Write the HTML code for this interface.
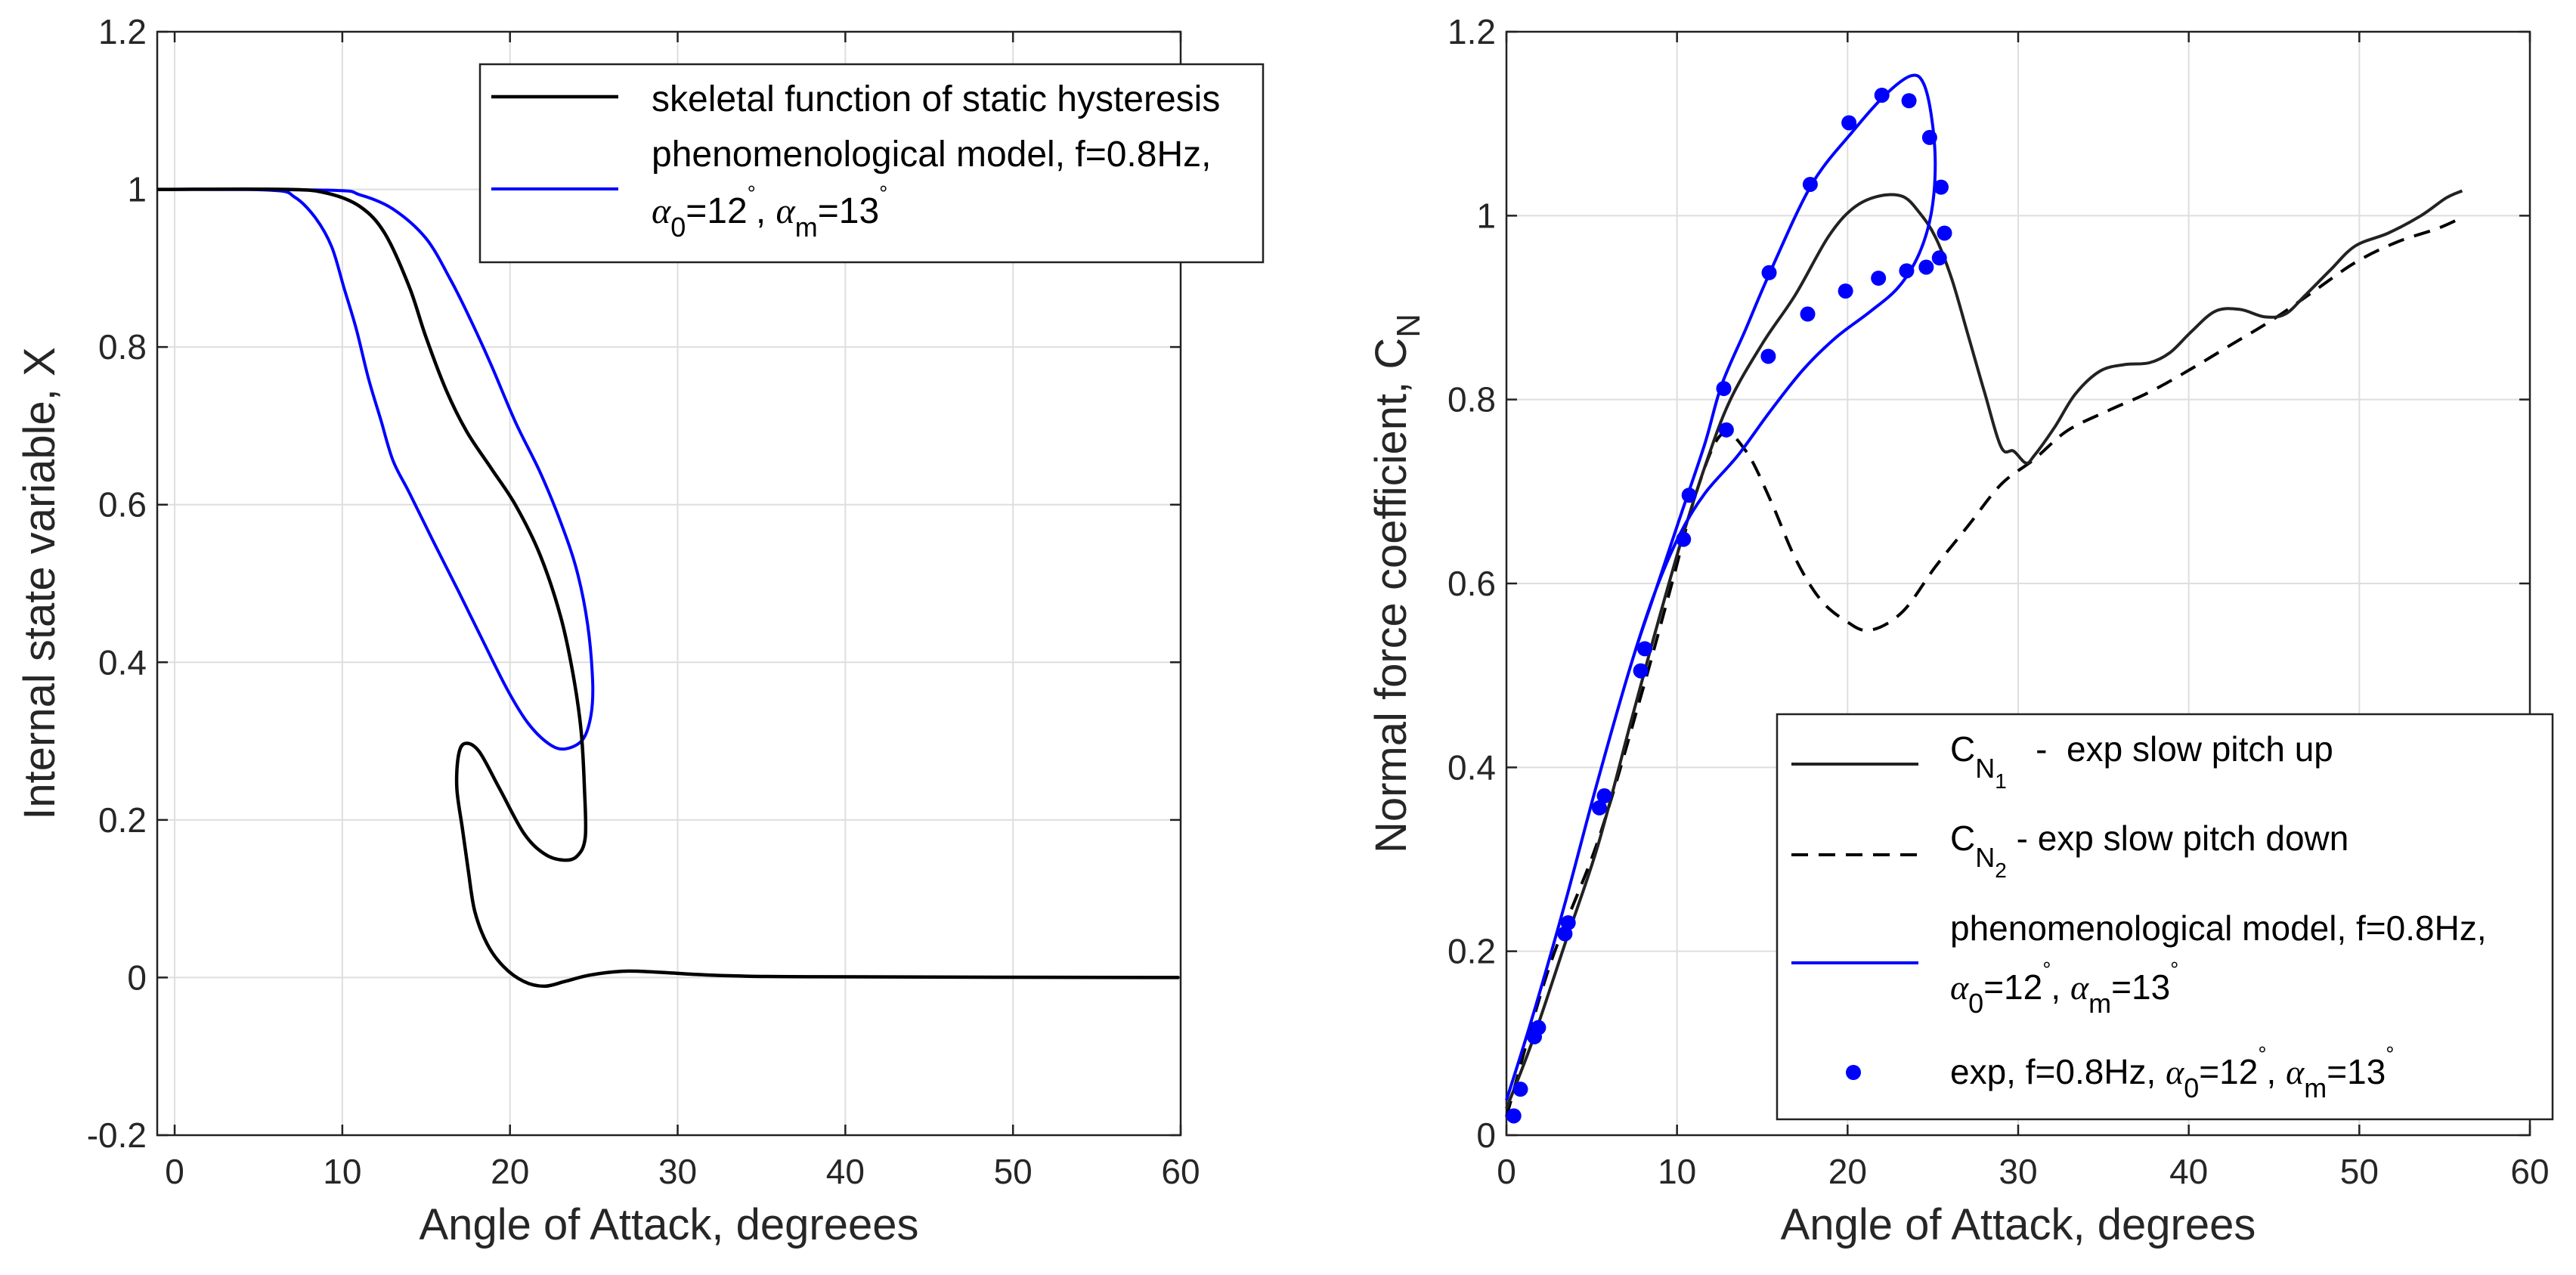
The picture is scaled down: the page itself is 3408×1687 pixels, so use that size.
<!DOCTYPE html>
<html><head><meta charset="utf-8"><style>
html,body{margin:0;padding:0;background:#fff}
svg{display:block;font-family:"Liberation Sans",Arial,sans-serif}
.al{font-family:"Liberation Serif",serif;font-style:italic}
</style></head><body>
<svg id="fig" width="3408" height="1687" viewBox="0 0 3408 1687" xmlns="http://www.w3.org/2000/svg">
<g id="left"></g>
<g id="right"></g>
</svg>
<script>
const leftXTicks=[0,10,20,30,40,50,60];
const leftYTicks=[-0.2,0,0.2,0.4,0.6,0.8,1,1.2];
const leftYTickLabels=['-0.2','0','0.2','0.4','0.6','0.8','1','1.2'];
const skeletalX=[-1.02,6.68,9.12,11.07,12.54,14.0,14.98,16.2,17.41,18.88,20.34,21.8,23.02,23.76,24.24,24.44,24.49,24.0,23.17,22.05,20.83,19.37,18.15,17.32,16.93,16.83,17.17,17.51,17.9,18.63,19.61,20.83,22.05,23.27,24.73,26.68,28.63,31.07,33.51,38.4,59.9];
const skeletalY=[1.0,1.0,0.995,0.978,0.944,0.876,0.813,0.745,0.693,0.646,0.599,0.536,0.458,0.385,0.313,0.240,0.178,0.154,0.149,0.157,0.183,0.240,0.287,0.297,0.282,0.240,0.188,0.136,0.084,0.043,0.014,-0.005,-0.011,-0.005,0.003,0.008,0.007,0.004,0.002,0.001,0];
const modelXX=[-1.02,9.12,11.07,13.02,14.98,16.44,17.66,18.88,20.34,21.8,23.02,23.99,24.63,24.93,24.83,24.34,23.27,22.29,21.07,19.85,18.39,16.93,15.46,14.0,13.02,12.29,11.56,10.83,10.1,9.37,8.39,7.17,5.71,-1.02];
const modelXY=[1.0,0.999,0.993,0.975,0.938,0.886,0.834,0.777,0.704,0.641,0.578,0.516,0.448,0.375,0.333,0.302,0.290,0.297,0.323,0.365,0.427,0.490,0.552,0.615,0.656,0.708,0.760,0.823,0.875,0.927,0.964,0.990,0.999,1.0];

const rightXTicks=[0,10,20,30,40,50,60];
const rightYTicks=[0,0.2,0.4,0.6,0.8,1,1.2];
const rightYTickLabels=['0','0.2','0.4','0.6','0.8','1','1.2'];
const cn1X=[0,1.5,3.43,5.36,7.29,8.74,10.18,11.63,13.08,15.01,16.94,18.87,20.32,21.77,23.21,24.18,25.14,26.11,27.08,28.04,29.01,29.73,30.45,30.94,32.14,33.35,34.8,36.24,37.69,38.9,40.11,41.55,43.0,44.45,45.66,46.86,48.31,49.76,51.69,53.62,55.07,56.03];
const cn1Y=[0.029,0.101,0.208,0.315,0.449,0.548,0.642,0.727,0.798,0.861,0.914,0.977,1.008,1.021,1.021,1.004,0.977,0.931,0.869,0.807,0.748,0.744,0.731,0.739,0.770,0.806,0.831,0.838,0.840,0.851,0.873,0.896,0.898,0.890,0.893,0.914,0.941,0.967,0.981,1.0,1.019,1.027];
const cn2X=[0,2.46,5.36,7.77,9.7,11.15,12.6,14.04,15.49,16.94,18.39,19.84,21.28,23.21,25.14,27.08,29.01,30.94,32.87,35.28,37.69,40.11,42.52,44.93,47.35,49.76,52.17,54.58,56.03];
const cn2Y=[0.020,0.18,0.32,0.47,0.60,0.70,0.762,0.744,0.690,0.627,0.583,0.560,0.549,0.569,0.618,0.663,0.708,0.735,0.766,0.788,0.808,0.833,0.860,0.887,0.918,0.949,0.971,0.986,0.998];
const modelNX=[0,1.5,3.43,5.36,7.29,8.74,10.18,11.63,12.6,14.04,15.49,17.9,20.32,22.25,23.7,24.42,24.9,25.14,24.9,24.18,22.97,21.28,19.35,17.42,15.49,13.56,11.63,10.18,8.74,7.29,5.36,3.43,1.5,0];
const modelNY=[0.038,0.127,0.252,0.386,0.511,0.592,0.672,0.752,0.815,0.877,0.940,1.034,1.092,1.132,1.152,1.145,1.110,1.056,1.002,0.958,0.922,0.895,0.868,0.833,0.788,0.739,0.698,0.654,0.592,0.511,0.386,0.252,0.127,0.038];
const expX=[0.43,0.82,1.64,1.88,3.43,3.62,5.45,5.74,7.87,8.11,10.38,10.71,12.74,12.89,15.4,15.35,17.81,17.66,20.08,19.88,22.01,21.81,23.6,23.46,24.81,24.61,25.48,25.38,25.68];
const expY=[0.021,0.05,0.107,0.117,0.219,0.231,0.356,0.369,0.505,0.529,0.648,0.696,0.812,0.767,0.938,0.847,1.034,0.893,1.101,0.918,1.131,0.932,1.125,0.940,1.085,0.944,1.031,0.954,0.981];

const NS='http://www.w3.org/2000/svg';
function mk(tag,attrs,parent){const e=document.createElementNS(NS,tag);for(const k in attrs)e.setAttribute(k,attrs[k]);parent.appendChild(e);return e;}

function axes(g,L,R,T,B,x0,x1,y0,y1,xt,yt,ytl){
  const sx=v=>L+(v-x0)/(x1-x0)*(R-L);
  const sy=v=>B-(v-y0)/(y1-y0)*(B-T);
  xt.forEach(v=>{
    const l=mk('line',{x1:sx(v),x2:sx(v),y1:T,y2:B,stroke:'#dedede','stroke-width':2},g);
    
    
  });
  yt.forEach(v=>{
    const l=mk('line',{x1:L,x2:R,y1:sy(v),y2:sy(v),stroke:'#dedede','stroke-width':2},g);
    
    
  });
  xt.forEach(v=>{
    const t=mk('path',{d:`M${sx(v)},${B}v-14M${sx(v)},${T}v14`,stroke:'#222','stroke-width':2.5},g);
    
    
    const tx=mk('text',{x:sx(v),y:B+64,'font-size':46,fill:'#262626','text-anchor':'middle'},g);
    tx.textContent=String(v);
    
    
  });
  yt.forEach((v,i)=>{
    const t=mk('path',{d:`M${L},${sy(v)}h14M${R},${sy(v)}h-14`,stroke:'#222','stroke-width':2.5},g);
    
    
    const tx=mk('text',{x:L-14,y:sy(v)+16,'font-size':46,fill:'#262626','text-anchor':'end'},g);
    tx.textContent=ytl[i];
    
    
  });
  const box=mk('rect',{x:L,y:T,width:R-L,height:B-T,fill:'none',stroke:'#222','stroke-width':2.5},g);
  
  
  return [sx,sy];
}
function line(g,sx,sy,X,Y,attrs,name){
  const P=X.map((x,i)=>[sx(x),sy(Y[i])]);
  let d='M'+P[0][0].toFixed(1)+','+P[0][1].toFixed(1);
  for(let i=0;i<P.length-1;i++){
    const p0=P[Math.max(0,i-1)],p1=P[i],p2=P[i+1],p3=P[Math.min(P.length-1,i+2)];
    const c1=[p1[0]+(p2[0]-p0[0])/6,p1[1]+(p2[1]-p0[1])/6];
    const c2=[p2[0]-(p3[0]-p1[0])/6,p2[1]-(p3[1]-p1[1])/6];
    d+='C'+c1.map(v=>v.toFixed(1)).join(',')+' '+c2.map(v=>v.toFixed(1)).join(',')+' '+p2.map(v=>v.toFixed(1)).join(',');
  }
  const p=mk('path',Object.assign({d:d,fill:'none','stroke-linejoin':'round'},attrs),g);
  
  
}

// LEFT
const gl=document.getElementById('left');
let [sx,sy]=axes(gl,208,1562,42,1502,-1.04,60,-0.2,1.2,leftXTicks,leftYTicks,leftYTickLabels);
line(gl,sx,sy,modelXX,modelXY,{stroke:'#0000ff','stroke-width':4},'phenomenological-model-line');
line(gl,sx,sy,skeletalX,skeletalY,{stroke:'#000','stroke-width':4.5},'skeletal-function-line');
gl.insertAdjacentHTML('beforeend',`
<text x="885" y="1640" font-size="58" fill="#262626" text-anchor="middle">Angle of Attack, degreees</text>
<text transform="translate(72,772) rotate(-90)" font-size="58" fill="#262626" text-anchor="middle">Internal state variable, X</text>
<g>
<rect x="635" y="85" width="1036" height="262" fill="#fff" stroke="#222" stroke-width="2.5"/>
<line x1="650" y1="128" x2="818" y2="128" stroke="#000" stroke-width="4.5"/>
<text x="862" y="147" font-size="48" fill="#000">skeletal function of static hysteresis</text>
<line x1="650" y1="250" x2="818" y2="250" stroke="#0000ff" stroke-width="4"/>
<text x="862" y="220" font-size="48" fill="#000">phenomenological model, f=0.8Hz,</text>
<text x="862" y="295" font-size="48" fill="#000"><tspan class="al">α</tspan><tspan font-size="36" dy="18">0</tspan><tspan dy="-18">=12</tspan><tspan font-size="28" dy="-30">°</tspan><tspan dy="30">, </tspan><tspan class="al">α</tspan><tspan font-size="36" dy="18">m</tspan><tspan dy="-18">=13</tspan><tspan font-size="28" dy="-30">°</tspan></text>
</g>`);

// RIGHT
const gr=document.getElementById('right');
[sx,sy]=axes(gr,1993,3347,42,1502,0,60,0,1.2,rightXTicks,rightYTicks,rightYTickLabels);
line(gr,sx,sy,cn2X,cn2Y,{stroke:'#000','stroke-width':4,'stroke-dasharray':'22 14'},'cn2-pitch-down-line');
line(gr,sx,sy,cn1X,cn1Y,{stroke:'#222','stroke-width':4},'cn1-pitch-up-line');
line(gr,sx,sy,modelNX,modelNY,{stroke:'#0000ff','stroke-width':4},'phenomenological-model-line');
expX.forEach((x,i)=>{
  const c=mk('circle',{cx:sx(x),cy:sy(expY[i]),r:10,fill:'#0000ff'},gr);
  
  
});
gr.insertAdjacentHTML('beforeend',`
<text x="2670" y="1640" font-size="58" fill="#262626" text-anchor="middle">Angle of Attack, degrees</text>
<text transform="translate(1860,772) rotate(-90)" font-size="58" fill="#262626" text-anchor="middle">Normal force coefficient, C<tspan font-size="44" dy="18">N</tspan></text>
<g>
<rect x="2351" y="945" width="1026" height="536" fill="#fff" stroke="#222" stroke-width="2.5"/>
<line x1="2370" y1="1011" x2="2538" y2="1011" stroke="#222" stroke-width="4"/>
<text x="2580" y="1007" font-size="46" fill="#000">C<tspan font-size="36" dy="22">N</tspan><tspan font-size="28" dy="14">1</tspan><tspan dy="-36" font-size="46">&#160;&#160;&#160;-&#160;&#160;exp slow pitch up</tspan></text>
<line x1="2370" y1="1131" x2="2538" y2="1131" stroke="#000" stroke-width="4" stroke-dasharray="22 14"/>
<text x="2580" y="1125" font-size="46" fill="#000">C<tspan font-size="36" dy="22">N</tspan><tspan font-size="28" dy="14">2</tspan><tspan dy="-36" font-size="46">&#160;- exp slow pitch down</tspan></text>
<line x1="2370" y1="1274" x2="2538" y2="1274" stroke="#0000ff" stroke-width="4"/>
<text x="2580" y="1244" font-size="46" fill="#000">phenomenological model, f=0.8Hz,</text>
<text x="2580" y="1322" font-size="46" fill="#000"><tspan class="al">α</tspan><tspan font-size="36" dy="18">0</tspan><tspan dy="-18">=12</tspan><tspan font-size="28" dy="-30">°</tspan><tspan dy="30">, </tspan><tspan class="al">α</tspan><tspan font-size="36" dy="18">m</tspan><tspan dy="-18">=13</tspan><tspan font-size="28" dy="-30">°</tspan></text>
<circle cx="2452" cy="1419" r="10" fill="#0000ff"/>
<text x="2580" y="1434" font-size="46" fill="#000">exp, f=0.8Hz, <tspan class="al">α</tspan><tspan font-size="36" dy="18">0</tspan><tspan dy="-18">=12</tspan><tspan font-size="28" dy="-30">°</tspan><tspan dy="30">, </tspan><tspan class="al">α</tspan><tspan font-size="36" dy="18">m</tspan><tspan dy="-18">=13</tspan><tspan font-size="28" dy="-30">°</tspan></text>
</g>`);
</script>
</body></html>
